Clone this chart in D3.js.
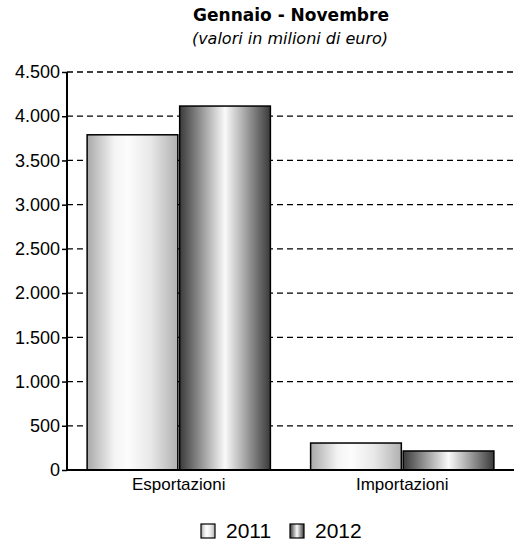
<!DOCTYPE html>
<html>
<head>
<meta charset="utf-8">
<script src="https://cdn.jsdelivr.net/npm/d3@7"></script>
<style>
  body { margin: 0; background: #fff; }
  svg { display: block; }
</style>
</head>
<body>
<svg id="chart" width="517" height="543"></svg>
<script>
const categories = ['Esportazioni', 'Importazioni'];
const years = ['2011', '2012'];
const values2011 = [3790, 305];
const values2012 = [4115, 215];
const yTicks = [0, 500, 1000, 1500, 2000, 2500, 3000, 3500, 4000, 4500];

const svg = d3.select('#chart');
const margin = { left: 67, right: 3, top: 72, bottom: 73 };
const width = 517 - margin.left - margin.right;
const height = 543 - margin.top - margin.bottom;

const defs = svg.append('defs');
function addGradient(id, stops) {
  const g = defs.append('linearGradient').attr('id', id)
    .attr('x1', '0%').attr('x2', '100%').attr('y1', '0%').attr('y2', '0%');
  stops.forEach(([o, c]) => g.append('stop').attr('offset', o).attr('stop-color', c));
}
addGradient('g2011', [[0, '#a8a8a8'], [0.3, '#f4f4f4'], [0.45, '#fcfcfc'], [0.7, '#e8e8e8'], [1, '#b0b0b0']]);
addGradient('g2012', [[0, '#3a3a3a'], [0.25, '#9a9a9a'], [0.5, '#fafafa'], [0.75, '#9a9a9a'], [1, '#3a3a3a']]);
const fills = { '2011': 'url(#g2011)', '2012': 'url(#g2012)' };

const g = svg.append('g').attr('transform', `translate(${margin.left},${margin.top})`);

const x = d3.scaleBand().domain(categories).range([0, width]).paddingInner(0.18).paddingOuter(0.09);
const x1 = d3.scaleBand().domain(years).range([0, x.bandwidth()]).paddingInner(0.02);
const y = d3.scaleLinear().domain([0, 4500]).range([height, 0]);

const fmt = d => d3.format(',')(d).replace(/,/g, '.');
const sans = 'Liberation Sans, Arial, sans-serif';

// grid
g.selectAll('.grid').data(yTicks.filter(d => d > 0)).join('line')
  .attr('x1', 0).attr('x2', width)
  .attr('y1', d => y(d)).attr('y2', d => y(d))
  .attr('stroke', '#000').attr('stroke-width', 1.3).attr('stroke-dasharray', '6,4');

// bars
const rows = categories.map((c, i) => ({ cat: c, vals: [values2011[i], values2012[i]] }));
g.selectAll('.cat').data(rows).join('g')
  .attr('transform', d => `translate(${x(d.cat)},0)`)
  .selectAll('rect').data(d => d.vals.map((v, i) => ({ year: years[i], v })))
  .join('rect')
  .attr('x', d => x1(d.year))
  .attr('width', x1.bandwidth())
  .attr('y', d => y(d.v))
  .attr('height', d => height - y(d.v))
  .attr('fill', d => fills[d.year])
  .attr('stroke', '#000').attr('stroke-width', 1.5);

// y axis
const yAxis = g.append('g').call(d3.axisLeft(y).tickValues(yTicks).tickFormat(fmt).tickSize(5).tickPadding(2));
yAxis.attr('font-family', sans).attr('font-size', 18);
yAxis.select('.domain').attr('stroke-width', 2).attr('d', `M0,0V${height}`);
yAxis.selectAll('.tick line').attr('stroke-width', 1.5);
yAxis.selectAll('text').attr('fill', '#000');

// x axis
const xAxis = g.append('g').attr('transform', `translate(0,${height})`)
  .call(d3.axisBottom(x).tickSize(0).tickPadding(8));
xAxis.attr('font-family', sans).attr('font-size', 17);
xAxis.select('.domain').attr('stroke-width', 2).attr('d', `M0,0H${width}`);
xAxis.selectAll('text').attr('fill', '#000');

// titles
svg.append('text').attr('x', 291).attr('y', 21).attr('text-anchor', 'middle')
  .attr('font-family', 'DejaVu Sans, Verdana, sans-serif').attr('font-weight', 'bold').attr('font-size', 17)
  .text('Gennaio - Novembre');
svg.append('text').attr('x', 290).attr('y', 44).attr('text-anchor', 'middle')
  .attr('font-family', 'DejaVu Sans, Verdana, sans-serif').attr('font-style', 'italic').attr('font-size', 16)
  .text('(valori in milioni di euro)');

// legend
const legend = svg.append('g').attr('transform', 'translate(201,524)');
const items = legend.selectAll('g').data(years).join('g')
  .attr('transform', (d, i) => `translate(${i * 89},0)`);
items.append('rect').attr('width', 14).attr('height', 14)
  .attr('fill', d => fills[d]).attr('stroke', '#000').attr('stroke-width', 1.2);
items.append('text').attr('x', 25).attr('y', 14)
  .attr('font-family', sans).attr('font-size', 21)
  .text(d => d);
</script>
</body>
</html>
